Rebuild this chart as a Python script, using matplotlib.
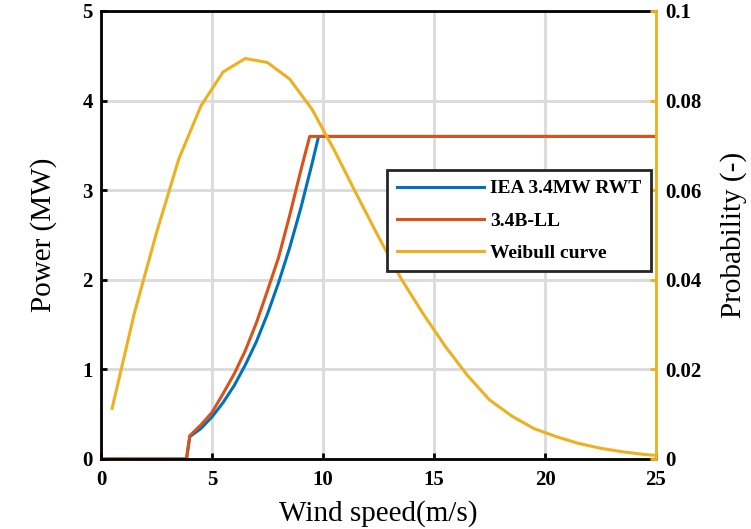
import matplotlib
matplotlib.use("Agg")
import matplotlib.pyplot as plt

plt.rcParams['font.family'] = ['Liberation Serif', 'DejaVu Serif']

# MATLAB default colours
BLUE = '#0072BD'
ORANGE = '#D95319'
YELLOW = '#EDB120'

# Power curves (MW)
iea_speed = [0.0, 3.85, 4.0, 4.5, 5.0, 5.5, 6.0, 6.5, 7.0, 7.5, 8.0, 8.5, 9.0, 9.5, 9.8, 25.0]
iea_power = [0.0, 0.0, 0.25, 0.34, 0.47, 0.63, 0.82, 1.05, 1.31, 1.62, 1.97, 2.36, 2.80, 3.29, 3.6, 3.6]

ll_speed = [0.0, 3.85, 4.0, 4.5, 5.0, 5.5, 6.0, 6.5, 7.0, 7.5, 8.0, 8.5, 9.0, 9.4, 25.0]
ll_power = [0.0, 0.0, 0.26, 0.38, 0.52, 0.73, 0.95, 1.21, 1.52, 1.88, 2.25, 2.72, 3.22, 3.6, 3.6]

# Weibull probability density
wb_speed = [0.5, 1.5, 2.5, 3.5, 4.5, 5.5, 6.5, 7.5, 8.5, 9.5, 10.5, 11.5, 12.5,
            13.5, 14.5, 15.5, 16.5, 17.5, 18.5, 19.5, 20.5, 21.5, 22.5, 23.5, 24.5, 25.0]
wb_prob = [0.0113, 0.0325, 0.0505, 0.0669, 0.0788, 0.0864, 0.0894, 0.0885, 0.0848,
           0.0781, 0.0690, 0.0592, 0.0496, 0.0404, 0.0325, 0.0252, 0.0187, 0.0132,
           0.0096, 0.0068, 0.0050, 0.0035, 0.0024, 0.0016, 0.0010, 0.0008]

fig = plt.figure(figsize=(7.51, 5.29), dpi=100)
ax1 = fig.add_axes([101 / 751, 1 - 459 / 529, 555 / 751, 448 / 529])
ax2 = ax1.twinx()

ax1.grid(True, color='#dcdcdc', linewidth=2.2)
ax1.set_axisbelow(True)

l1, = ax1.plot(iea_speed, iea_power, color=BLUE, linewidth=2.2, label='IEA 3.4MW RWT')
l2, = ax1.plot(ll_speed, ll_power, color=ORANGE, linewidth=2.2, label='3.4B-LL')
l3, = ax2.plot(wb_speed, wb_prob, color=YELLOW, linewidth=2.2, label='Weibull curve')

ax1.set_xlim(0, 25)
ax1.set_ylim(0, 5)
ax2.set_ylim(0, 0.1)
ax1.set_xticks([0, 5, 10, 15, 20, 25])
ax1.set_yticks([0, 1, 2, 3, 4, 5])
ax2.set_yticks([0, 0.02, 0.04, 0.06, 0.08, 0.1])
ax2.set_yticklabels(['0', '0.02', '0.04', '0.06', '0.08', '0.1'])

for sp in ['left', 'bottom', 'top']:
    ax1.spines[sp].set_linewidth(2)
    ax1.spines[sp].set_color('black')
ax1.spines['right'].set_visible(False)
for sp in ['left', 'bottom', 'top']:
    ax2.spines[sp].set_visible(False)
ax2.spines['right'].set_color(YELLOW)
ax2.spines['right'].set_linewidth(2)

ax1.tick_params(axis='x', direction='in', length=4, width=2, labelsize=15, pad=8, top=False)
ax1.tick_params(axis='y', direction='in', length=4, width=2, labelsize=15, pad=6)
ax2.tick_params(axis='y', direction='in', length=4, width=2, colors=YELLOW,
                labelcolor='black', labelsize=15, pad=7)
for lab in ax1.get_xticklabels() + ax1.get_yticklabels() + ax2.get_yticklabels():
    lab.set_fontweight('bold')

ax1.set_xlabel('Wind speed(m/s)', fontsize=21, labelpad=7)
ax1.set_ylabel('Power (MW)', fontsize=21, labelpad=18)
ax2.set_ylabel('Probability (-)', fontsize=21, labelpad=13)

leg = ax2.legend(handles=[l1, l2, l3], loc='upper left',
                 bbox_to_anchor=(387 / 751, 1 - 170 / 529),
                 bbox_transform=fig.transFigure,
                 prop={'weight': 'bold', 'size': 14},
                 handlelength=4.5, labelspacing=0.75, fancybox=False,
                 framealpha=1, borderaxespad=0, borderpad=0.5, handletextpad=0.3)
leg.get_frame().set_edgecolor('#262626')
leg.get_frame().set_linewidth(2)

fig.savefig('out.png', dpi=100)
